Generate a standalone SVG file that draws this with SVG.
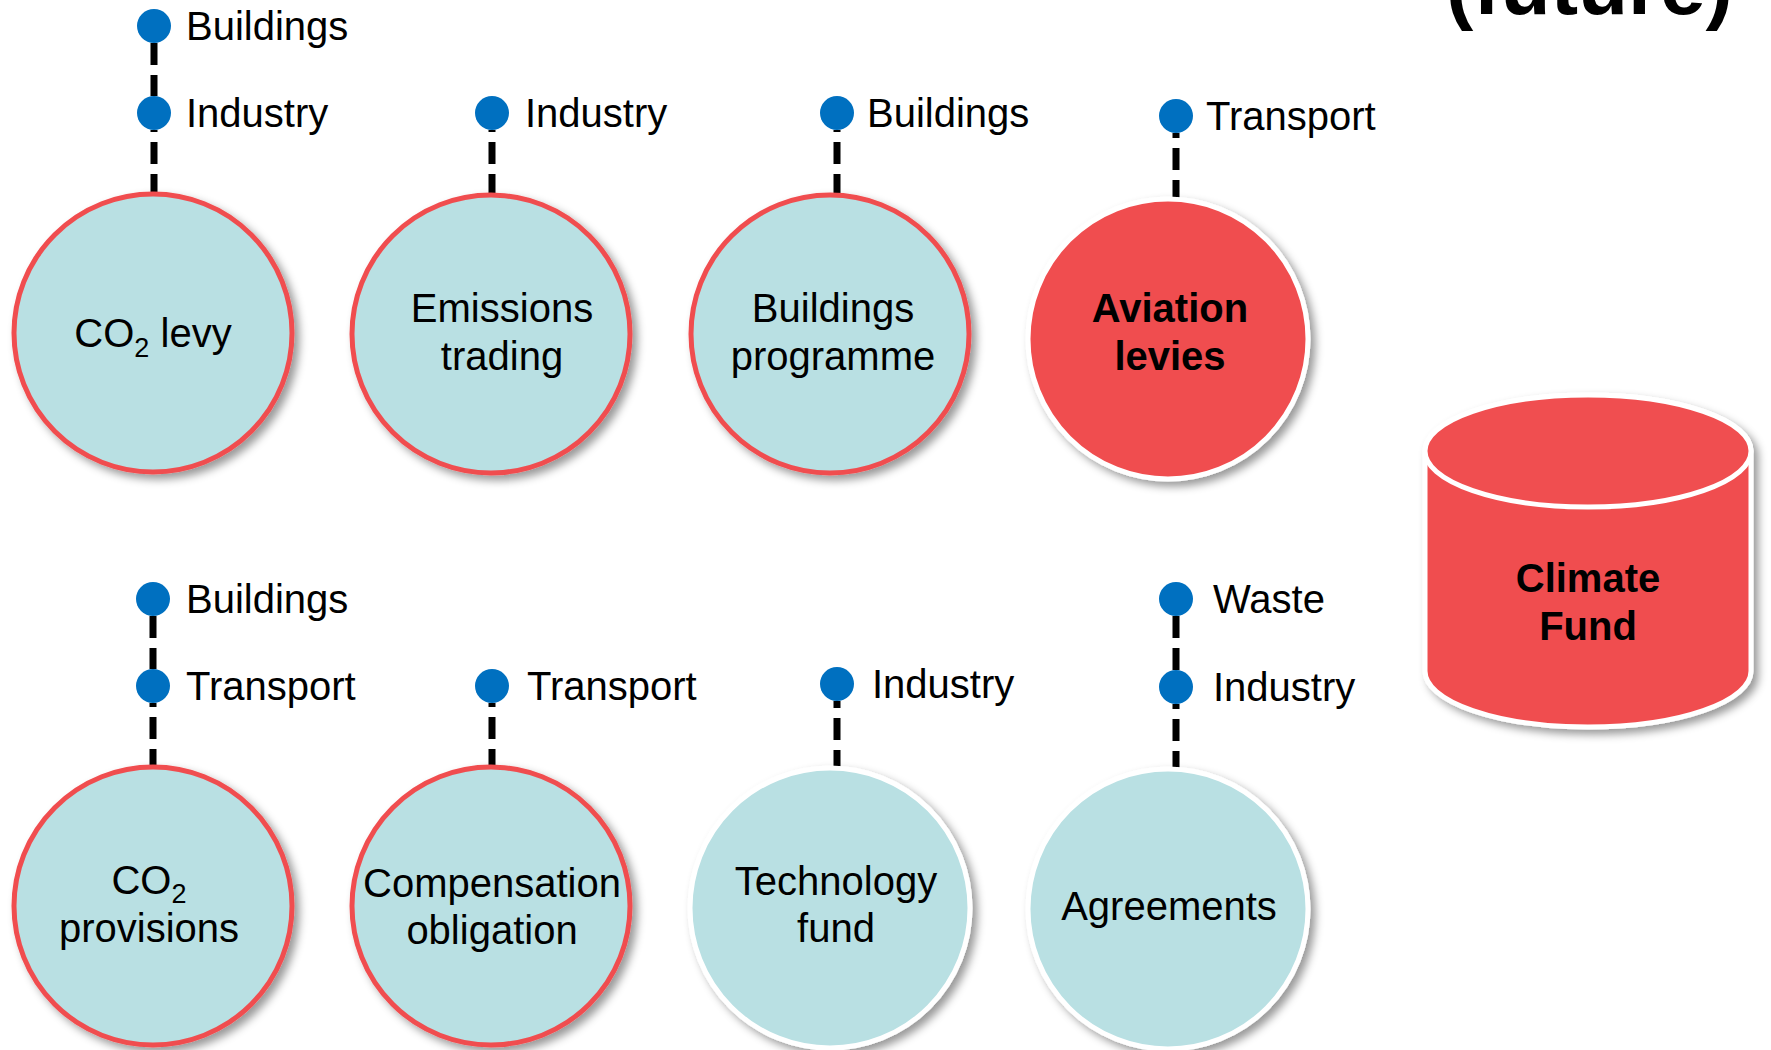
<svg xmlns="http://www.w3.org/2000/svg" width="1771" height="1050" viewBox="0 0 1771 1050">
<defs>
<filter id="sh" x="-20%" y="-20%" width="150%" height="150%">
<feDropShadow dx="5" dy="5" stdDeviation="4" flood-color="#000" flood-opacity="0.4"/>
</filter>
<style>
.txt{font-family:"Liberation Sans",Arial,sans-serif;font-size:40px;fill:#000}
.bold{font-weight:bold}
.mid{text-anchor:middle}
.blue{fill:#B9E0E3}
.redb{stroke:#F04E50;stroke-width:5}
.whb{stroke:#FFFFFF;stroke-width:5}
.red{fill:#F04E50}
.dot{fill:#0070C0}
.dash{stroke:#000;stroke-width:7;stroke-dasharray:22 10;fill:none}
.sub{font-size:27px}
</style>
</defs>
<rect width="1771" height="1050" fill="#FFFFFF"/>
<text class="txt bold" x="1446" y="14" style="font-size:82px">(future)</text>

<g id="connectors">
<line class="dash" x1="154" y1="43" x2="154" y2="96"/>
<line class="dash" x1="154" y1="196" x2="154" y2="130"/>
<line class="dash" x1="492" y1="196" x2="492" y2="130"/>
<line class="dash" x1="837" y1="196" x2="837" y2="130"/>
<line class="dash" x1="1176" y1="202" x2="1176" y2="133"/>
<line class="dash" x1="153" y1="616" x2="153" y2="669"/>
<line class="dash" x1="153" y1="771" x2="153" y2="703"/>
<line class="dash" x1="492" y1="771" x2="492" y2="703"/>
<line class="dash" x1="837" y1="772" x2="837" y2="701"/>
<line class="dash" x1="1176" y1="616" x2="1176" y2="670"/>
<line class="dash" x1="1176" y1="773" x2="1176" y2="704"/>
</g>

<g id="co2-levy">
<circle class="blue redb" cx="153" cy="333" r="139" filter="url(#sh)"/>
<text class="txt mid" x="153" y="347">CO<tspan class="sub" dy="10">2</tspan><tspan dy="-10"> levy</tspan></text>
<circle class="dot" cx="154" cy="26" r="17"/>
<text class="txt" x="186" y="40">Buildings</text>
<circle class="dot" cx="154" cy="113" r="17"/>
<text class="txt" x="186" y="127">Industry</text>
</g>

<g id="emissions-trading">
<circle class="blue redb" cx="491" cy="334" r="139" filter="url(#sh)"/>
<text class="txt mid" x="502" y="322">Emissions</text>
<text class="txt mid" x="502" y="370">trading</text>
<circle class="dot" cx="492" cy="113" r="17"/>
<text class="txt" x="525" y="127">Industry</text>
</g>

<g id="buildings-programme">
<circle class="blue redb" cx="830" cy="334" r="139" filter="url(#sh)"/>
<text class="txt mid" x="833" y="322">Buildings</text>
<text class="txt mid" x="833" y="370">programme</text>
<circle class="dot" cx="837" cy="113" r="17"/>
<text class="txt" x="867" y="127">Buildings</text>
</g>

<g id="aviation-levies">
<circle class="red whb" cx="1168" cy="339" r="140" filter="url(#sh)"/>
<text class="txt bold mid" x="1170" y="322">Aviation</text>
<text class="txt bold mid" x="1170" y="370">levies</text>
<circle class="dot" cx="1176" cy="116" r="17"/>
<text class="txt" x="1206" y="130">Transport</text>
</g>

<g id="climate-fund">
<path class="red whb" d="M1425,451 A163,56 0 0,1 1751,451 L1751,671 A163,56 0 0,1 1425,671 Z" filter="url(#sh)"/>
<ellipse class="red whb" cx="1588" cy="451" rx="163" ry="56"/>
<text class="txt bold mid" x="1588" y="592">Climate</text>
<text class="txt bold mid" x="1588" y="640">Fund</text>
</g>

<g id="co2-provisions">
<circle class="blue redb" cx="153" cy="906" r="139" filter="url(#sh)"/>
<text class="txt mid" x="149" y="894">CO<tspan class="sub" dy="9">2</tspan></text>
<text class="txt mid" x="149" y="942">provisions</text>
<circle class="dot" cx="153" cy="599" r="17"/>
<text class="txt" x="186" y="613">Buildings</text>
<circle class="dot" cx="153" cy="686" r="17"/>
<text class="txt" x="186" y="700">Transport</text>
</g>

<g id="compensation-obligation">
<circle class="blue redb" cx="491" cy="906" r="139" filter="url(#sh)"/>
<text class="txt mid" x="492" y="897">Compensation</text>
<text class="txt mid" x="492" y="944">obligation</text>
<circle class="dot" cx="492" cy="686" r="17"/>
<text class="txt" x="527" y="700">Transport</text>
</g>

<g id="technology-fund">
<circle class="blue whb" cx="830" cy="908" r="140" filter="url(#sh)"/>
<text class="txt mid" x="836" y="895">Technology</text>
<text class="txt mid" x="836" y="942">fund</text>
<circle class="dot" cx="837" cy="684" r="17"/>
<text class="txt" x="872" y="698">Industry</text>
</g>

<g id="agreements">
<circle class="blue whb" cx="1168" cy="909" r="140" filter="url(#sh)"/>
<text class="txt mid" x="1169" y="920">Agreements</text>
<circle class="dot" cx="1176" cy="599" r="17"/>
<text class="txt" x="1213" y="613">Waste</text>
<circle class="dot" cx="1176" cy="687" r="17"/>
<text class="txt" x="1213" y="701">Industry</text>
</g>
</svg>
